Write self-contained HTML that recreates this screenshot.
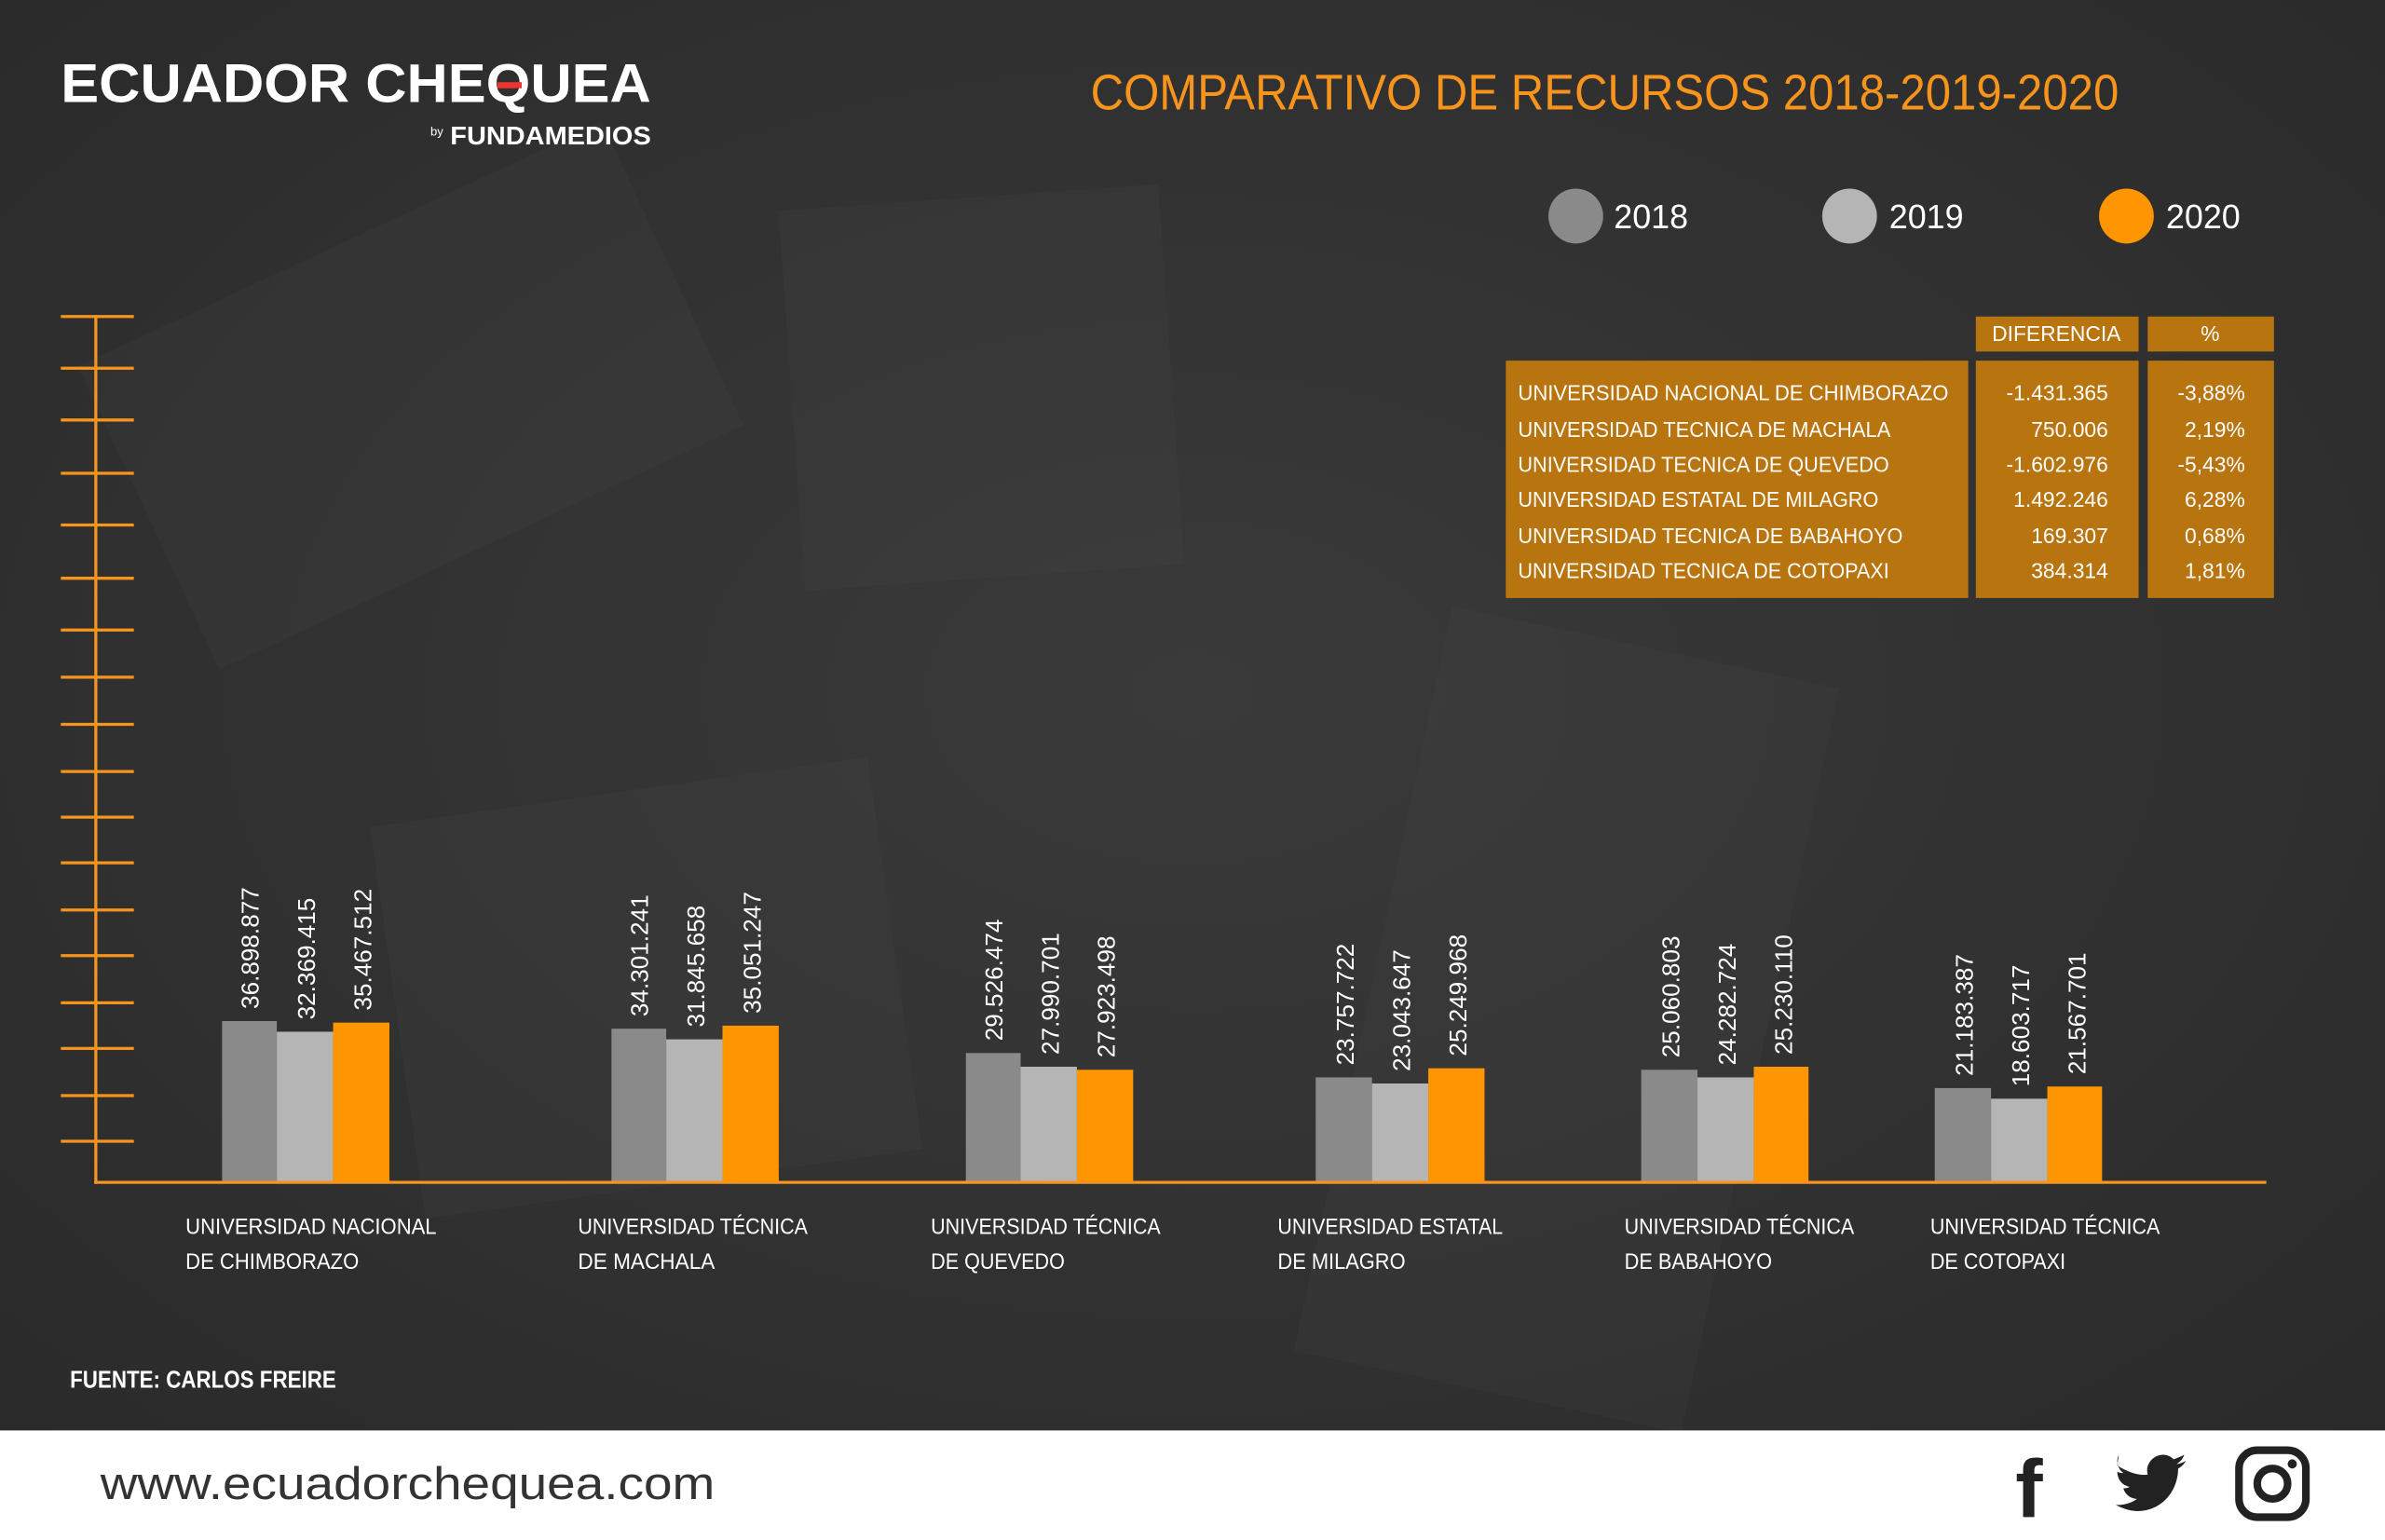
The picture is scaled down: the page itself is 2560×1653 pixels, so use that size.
<!DOCTYPE html>
<html><head><meta charset="utf-8">
<style>
html,body{margin:0;padding:0;background:#2f2f2f;}
svg{display:block;}
text{font-family:"Liberation Sans",sans-serif;}
</style></head>
<body>
<svg width="2560" height="1653" viewBox="0 0 1568 1012" preserveAspectRatio="none" xmlns="http://www.w3.org/2000/svg">
<defs>
<radialGradient id="bg" cx="0.5" cy="0.45" r="0.7">
<stop offset="0" stop-color="#3a3a3a"/><stop offset="1" stop-color="#2a2a2a"/>
</radialGradient>
</defs>
<rect width="1568" height="1012" fill="url(#bg)"/>
<g fill="#ffffff" opacity="0.02">
<rect x="520" y="130" width="250" height="250" transform="rotate(-4 640 250)"/>
<rect x="260" y="520" width="330" height="260" transform="rotate(-8 420 650)"/>
<rect x="900" y="420" width="260" height="500" transform="rotate(12 1030 670)"/>
<rect x="80" y="150" width="380" height="220" transform="rotate(-25 270 260)"/>
</g>
<text x="40" y="67" font-size="36" fill="#ffffff" font-weight="bold" textLength="388" lengthAdjust="spacingAndGlyphs">ECUADOR CHEQUEA</text>
<rect x="327" y="54" width="16" height="4" fill="#e33"/>
<text x="283" y="89" font-size="8" fill="#fff">by</text>
<text x="296" y="95" font-size="17" fill="#fff" font-weight="bold" textLength="132" lengthAdjust="spacingAndGlyphs">FUNDAMEDIOS</text>
<text x="717" y="72" font-size="33" fill="#f7941d" textLength="676" lengthAdjust="spacingAndGlyphs">COMPARATIVO DE RECURSOS 2018-2019-2020</text>
<circle cx="1036" cy="142" r="18" fill="#8a8a8a"/>
<text x="1061" y="150" font-size="22" fill="#fff">2018</text>
<circle cx="1216" cy="142" r="18" fill="#b5b5b5"/>
<text x="1242" y="150" font-size="22" fill="#fff">2019</text>
<circle cx="1398" cy="142" r="18" fill="#ff9500"/>
<text x="1424" y="150" font-size="22" fill="#fff">2020</text>
<g fill="#b8740e">
<rect x="1299" y="208" width="107" height="23"/>
<rect x="1412" y="208" width="83" height="23"/>
<rect x="990" y="237" width="304" height="156"/>
<rect x="1299" y="237" width="107" height="156"/>
<rect x="1412" y="237" width="83" height="156"/>
</g>
<g fill="#fff" font-size="14">
<text x="1352" y="224" text-anchor="middle">DIFERENCIA</text>
<text x="1453" y="224" text-anchor="middle">%</text>
<g text-anchor="start">
<text x="998" y="263" textLength="283" lengthAdjust="spacingAndGlyphs">UNIVERSIDAD NACIONAL DE CHIMBORAZO</text>
<text x="998" y="287" textLength="245" lengthAdjust="spacingAndGlyphs">UNIVERSIDAD TECNICA DE MACHALA</text>
<text x="998" y="310" textLength="244" lengthAdjust="spacingAndGlyphs">UNIVERSIDAD TECNICA DE QUEVEDO</text>
<text x="998" y="333" textLength="237" lengthAdjust="spacingAndGlyphs">UNIVERSIDAD ESTATAL DE MILAGRO</text>
<text x="998" y="357" textLength="253" lengthAdjust="spacingAndGlyphs">UNIVERSIDAD TECNICA DE BABAHOYO</text>
<text x="998" y="380" textLength="244" lengthAdjust="spacingAndGlyphs">UNIVERSIDAD TECNICA DE COTOPAXI</text>
</g>
<g text-anchor="end">
<text x="1386" y="263">-1.431.365</text><text x="1476" y="263">-3,88%</text>
<text x="1386" y="287">750.006</text><text x="1476" y="287">2,19%</text>
<text x="1386" y="310">-1.602.976</text><text x="1476" y="310">-5,43%</text>
<text x="1386" y="333">1.492.246</text><text x="1476" y="333">6,28%</text>
<text x="1386" y="357">169.307</text><text x="1476" y="357">0,68%</text>
<text x="1386" y="380">384.314</text><text x="1476" y="380">1,81%</text>
</g>
</g>
<g stroke="#f7941d" stroke-width="2">
<line x1="63" y1="207" x2="63" y2="778"/>
<line x1="62" y1="777" x2="1490" y2="777"/>
<line x1="40" y1="208" x2="88" y2="208"/><line x1="40" y1="242" x2="88" y2="242"/>
<line x1="40" y1="276" x2="88" y2="276"/><line x1="40" y1="311" x2="88" y2="311"/>
<line x1="40" y1="345" x2="88" y2="345"/><line x1="40" y1="380" x2="88" y2="380"/>
<line x1="40" y1="414" x2="88" y2="414"/><line x1="40" y1="445" x2="88" y2="445"/>
<line x1="40" y1="476" x2="88" y2="476"/><line x1="40" y1="507" x2="88" y2="507"/>
<line x1="40" y1="537" x2="88" y2="537"/><line x1="40" y1="567" x2="88" y2="567"/>
<line x1="40" y1="598" x2="88" y2="598"/><line x1="40" y1="628" x2="88" y2="628"/>
<line x1="40" y1="659" x2="88" y2="659"/><line x1="40" y1="689" x2="88" y2="689"/>
<line x1="40" y1="720" x2="88" y2="720"/><line x1="40" y1="750" x2="88" y2="750"/>
</g>
<g>
<rect x="146" y="671" width="36" height="105" fill="#8a8a8a"/><rect x="182" y="678" width="37" height="98" fill="#b5b5b5"/><rect x="219" y="672" width="37" height="104" fill="#ff9500"/>
<rect x="402" y="676" width="36" height="100" fill="#8a8a8a"/><rect x="438" y="683" width="37" height="93" fill="#b5b5b5"/><rect x="475" y="674" width="37" height="102" fill="#ff9500"/>
<rect x="635" y="692" width="36" height="84" fill="#8a8a8a"/><rect x="671" y="701" width="37" height="75" fill="#b5b5b5"/><rect x="708" y="703" width="37" height="73" fill="#ff9500"/>
<rect x="865" y="708" width="37" height="68" fill="#8a8a8a"/><rect x="902" y="712" width="37" height="64" fill="#b5b5b5"/><rect x="939" y="702" width="37" height="74" fill="#ff9500"/>
<rect x="1079" y="703" width="37" height="73" fill="#8a8a8a"/><rect x="1116" y="708" width="37" height="68" fill="#b5b5b5"/><rect x="1153" y="701" width="36" height="75" fill="#ff9500"/>
<rect x="1272" y="715" width="37" height="61" fill="#8a8a8a"/><rect x="1309" y="722" width="37" height="54" fill="#b5b5b5"/><rect x="1346" y="714" width="36" height="62" fill="#ff9500"/>
</g>
<g fill="#fff" font-size="16">
<text transform="translate(170,663) rotate(-90)">36.898.877</text>
<text transform="translate(207,670) rotate(-90)">32.369.415</text>
<text transform="translate(244,664) rotate(-90)">35.467.512</text>
<text transform="translate(426,668) rotate(-90)">34.301.241</text>
<text transform="translate(463,675) rotate(-90)">31.845.658</text>
<text transform="translate(500,666) rotate(-90)">35.051.247</text>
<text transform="translate(659,684) rotate(-90)">29.526.474</text>
<text transform="translate(696,693) rotate(-90)">27.990.701</text>
<text transform="translate(733,695) rotate(-90)">27.923.498</text>
<text transform="translate(890,700) rotate(-90)">23.757.722</text>
<text transform="translate(927,704) rotate(-90)">23.043.647</text>
<text transform="translate(964,694) rotate(-90)">25.249.968</text>
<text transform="translate(1104,695) rotate(-90)">25.060.803</text>
<text transform="translate(1141,700) rotate(-90)">24.282.724</text>
<text transform="translate(1178,693) rotate(-90)">25.230.110</text>
<text transform="translate(1297,707) rotate(-90)">21.183.387</text>
<text transform="translate(1334,714) rotate(-90)">18.603.717</text>
<text transform="translate(1371,706) rotate(-90)">21.567.701</text>
</g>
<g fill="#fff" font-size="15">
<text x="122" y="811" textLength="165" lengthAdjust="spacingAndGlyphs">UNIVERSIDAD NACIONAL</text>
<text x="122" y="834" textLength="114" lengthAdjust="spacingAndGlyphs">DE CHIMBORAZO</text>
<text x="380" y="811" textLength="151" lengthAdjust="spacingAndGlyphs">UNIVERSIDAD TÉCNICA</text>
<text x="380" y="834" textLength="90" lengthAdjust="spacingAndGlyphs">DE MACHALA</text>
<text x="612" y="811" textLength="151" lengthAdjust="spacingAndGlyphs">UNIVERSIDAD TÉCNICA</text>
<text x="612" y="834" textLength="88" lengthAdjust="spacingAndGlyphs">DE QUEVEDO</text>
<text x="840" y="811" textLength="148" lengthAdjust="spacingAndGlyphs">UNIVERSIDAD ESTATAL</text>
<text x="840" y="834" textLength="84" lengthAdjust="spacingAndGlyphs">DE MILAGRO</text>
<text x="1068" y="811" textLength="151" lengthAdjust="spacingAndGlyphs">UNIVERSIDAD TÉCNICA</text>
<text x="1068" y="834" textLength="97" lengthAdjust="spacingAndGlyphs">DE BABAHOYO</text>
<text x="1269" y="811" textLength="151" lengthAdjust="spacingAndGlyphs">UNIVERSIDAD TÉCNICA</text>
<text x="1269" y="834" textLength="89" lengthAdjust="spacingAndGlyphs">DE COTOPAXI</text>
</g>
<text x="46" y="912" font-size="16" fill="#fff" font-weight="bold" textLength="175" lengthAdjust="spacingAndGlyphs">FUENTE: CARLOS FREIRE</text>
<rect x="0" y="940" width="1568" height="72" fill="#ffffff"/>
<text x="66" y="985" font-size="30" fill="#333" textLength="404" lengthAdjust="spacingAndGlyphs">www.ecuadorchequea.com</text>
<text x="1325" y="997" font-size="54" fill="#222" font-weight="bold">f</text>
<path d="M1392 963c6 4 14 7 20 6-2-7 4-13 10-13 3 0 5 1 7 3 3-1 5-2 7-3-1 3-3 5-5 6 2 0 4-1 6-2-1 2-3 4-5 5 0 14-10 28-27 28-5 0-10-2-14-4 5 0 10-1 14-4-4 0-8-3-9-7 1 0 3 0 4-1-5-1-8-5-8-10 1 1 3 1 4 1-4-3-5-8-3-12z" fill="#222"/>
<rect x="1472" y="953" width="44" height="44" rx="12" fill="none" stroke="#222" stroke-width="5"/>
<circle cx="1494" cy="975" r="10" fill="none" stroke="#222" stroke-width="5"/>
<circle cx="1507" cy="962" r="3" fill="#222"/>
</svg>
</body></html>
